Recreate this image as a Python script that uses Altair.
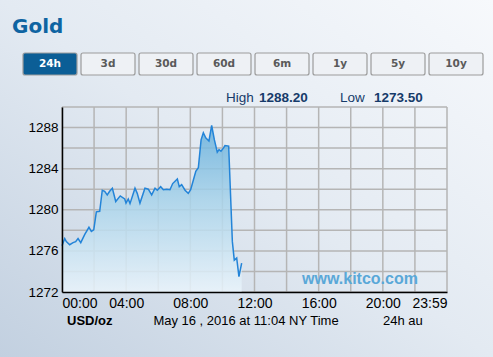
import altair as alt
import pandas as pd

# ---- data ----
hours = [0.00, 0.17, 0.27, 0.48, 0.69, 0.85, 1.00, 1.17, 1.42, 1.68, 1.83, 1.98,
         2.14, 2.35, 2.51, 2.66, 2.82, 2.97, 3.14, 3.35, 3.63, 3.91, 3.99, 4.13,
         4.24, 4.55, 4.69, 4.86, 5.17, 5.38, 5.59, 5.80, 5.94, 6.15, 6.32, 6.53,
         6.73, 6.90, 7.19, 7.31, 7.46, 7.67, 7.87, 8.02, 8.19, 8.34, 8.50, 8.67,
         8.81, 8.96, 9.16, 9.33, 9.50, 9.68, 9.79, 9.91, 10.06, 10.16, 10.39,
         10.62, 10.74, 10.89, 11.03, 11.20]
prices = [1276.5, 1277.2, 1276.9, 1276.6, 1276.8, 1276.9, 1277.2, 1276.8, 1277.6,
          1278.3, 1277.9, 1278.05, 1279.8, 1279.85, 1281.9, 1281.8, 1281.45, 1281.8,
          1282.1, 1280.8, 1281.35, 1281.05, 1280.65, 1281.05, 1280.6, 1282.1, 1281.6,
          1280.65, 1282.1, 1282.0, 1281.45, 1282.1, 1281.9, 1282.25, 1281.95, 1282.0,
          1281.95, 1282.55, 1283.0, 1282.25, 1282.45, 1281.9, 1281.6, 1281.95, 1282.9,
          1283.75, 1284.1, 1286.8, 1287.5, 1287.0, 1286.7, 1288.2, 1286.8, 1285.6,
          1285.85, 1285.7, 1286.0, 1286.25, 1286.2, 1276.9, 1275.1, 1275.3, 1273.5,
          1274.8]
x_grid = [0, 2, 4, 6, 8, 10, 12, 14, 16, 18, 20, 22, 24]
y_grid = [1272, 1274, 1276, 1278, 1280, 1282, 1284, 1286, 1288, 1290]
y_base = 1272
buttons = ["24h", "3d", "30d", "60d", "6m", "1y", "5y", "10y"]
high_val = "1288.20"
low_val = "1273.50"

W, H = 385, 185
FONT = "Liberation Sans"

df = pd.DataFrame({"h": hours, "p": prices})
xscale = alt.Scale(domain=[0, 24], nice=False, zero=False)
yscale = alt.Scale(domain=[1272, 1290], nice=False, zero=False)

xaxis = alt.Axis(values=x_grid, grid=False, ticks=False, title=None, zindex=1,
                 domainColor="#000", domainWidth=1.5, labelFont=FONT, labelFontSize=14,
                 labelColor="#000", labelPadding=4, labelOverlap=False,
                 labelExpr="datum.value == 24 ? '23:59' : (datum.value % 4 == 0 ? (datum.value < 10 ? '0' : '') + datum.value + ':00' : '')")
yaxis = alt.Axis(values=y_grid, grid=False, ticks=False, title=None, zindex=1,
                 domainColor="#000", domainWidth=1.5, labelFont=FONT, labelFontSize=13.5,
                 labelColor="#000", labelPadding=4, labelOverlap=False,
                 labelExpr="datum.value % 4 == 0 ? '' + datum.value : ''")

one = alt.Data(values=[{"a": 1}])

# background
bg = alt.Chart(one).mark_rect(
    fill=alt.Gradient(gradient="linear",
                      stops=[alt.GradientStop(color="#c2d0e0", offset=0),
                             alt.GradientStop(color="#e3eaf2", offset=0.5),
                             alt.GradientStop(color="#f7f9fc", offset=1)],
                      x1=0, y1=1, x2=1, y2=0)
).encode(x=alt.value(-62), x2=alt.value(431), y=alt.value(-107), y2=alt.value(250))

gx = alt.Chart(pd.DataFrame({"g": x_grid})).mark_rule(color="#b5b5b5", strokeWidth=1.5).encode(
    x=alt.X("g:Q", scale=xscale, axis=xaxis))
gy = alt.Chart(pd.DataFrame({"g": y_grid})).mark_rule(color="#b5b5b5", strokeWidth=1.5).encode(
    y=alt.Y("g:Q", scale=yscale, axis=yaxis))

area = alt.Chart(df).mark_area(
    opacity=0.85,
    fill=alt.Gradient(gradient="linear",
                      stops=[alt.GradientStop(color="#66afdb", offset=0),
                             alt.GradientStop(color="#a8d3ea", offset=0.45),
                             alt.GradientStop(color="#eaf4fb", offset=1)],
                      x1=1, x2=1, y1=0, y2=1)
).encode(x=alt.X("h:Q", scale=xscale, axis=xaxis),
         y=alt.Y("p:Q", scale=yscale, axis=yaxis),
         y2=alt.datum(y_base))

line = alt.Chart(df).mark_line(color="#2384d8", strokeWidth=1.5).encode(
    x=alt.X("h:Q", scale=xscale, axis=xaxis), y=alt.Y("p:Q", scale=yscale, axis=yaxis))

bdf = pd.DataFrame({"label": buttons, "i": list(range(len(buttons)))})
btn_base = alt.Chart(bdf).transform_calculate(
    bx="-39 + datum.i * 58", bx2="-39 + datum.i * 58 + 54", bc="-39 + datum.i * 58 + 27")
btn_rect = btn_base.mark_rect(stroke="#9c9c9c", strokeWidth=1.2, cornerRadius=2).encode(
    x=alt.X("bx:Q", scale=None), x2="bx2:Q",
    y=alt.value(-54), y2=alt.value(-32),
    fill=alt.condition("datum.i == 0", alt.value("#0b5e96"), alt.value("#eef1f5")))
btn_text = btn_base.mark_text(font="DejaVu Sans", fontSize=10.5, fontWeight="bold",
                              baseline="middle", align="center").encode(
    x=alt.X("bc:Q", scale=None), y=alt.value(-43), text="label:N",
    color=alt.condition("datum.i == 0", alt.value("#ffffff"), alt.value("#5a5a5a")))


def txt(s, x, y, size=13, weight="normal", color="#000", align="left", font=FONT):
    return alt.Chart(one).mark_text(text=s, font=font, fontSize=size, fontWeight=weight,
                                    color=color, align=align, baseline="alphabetic").encode(
        x=alt.value(x), y=alt.value(y))


texts = [
    txt("Gold", -50, -74, size=20, weight="bold", color="#0e64a2", font="DejaVu Sans"),
    txt("High", 164, -5, size=13.5, color="#163b6a"),
    txt(high_val, 197, -5, size=13.5, weight="bold", color="#163b6a"),
    txt("Low", 278, -5, size=13.5, color="#163b6a"),
    txt(low_val, 312, -5, size=13.5, weight="bold", color="#163b6a"),
    txt("USD/oz", 5, 218, size=13, weight="bold"),
    txt("May 16 , 2016 at 11:04 NY Time", 184, 218, size=13, align="center"),
    txt("24h au", 321, 218, size=13),
    txt("www.kitco.com", 298, 177, size=16, weight="bold", color="#5aa8d8", align="center"),
]

chart = alt.layer(bg, gx, gy, area, line, btn_rect, btn_text, *texts).properties(
    width=W, height=H,
    padding={"left": 62, "top": 107, "right": 46, "bottom": 65},
    autosize=alt.AutoSizeParams(type="none"),
    background="#e6ecf3",
).configure_view(stroke=None)

chart.save("out.html", embed_options={"renderer": "svg", "actions": False})
